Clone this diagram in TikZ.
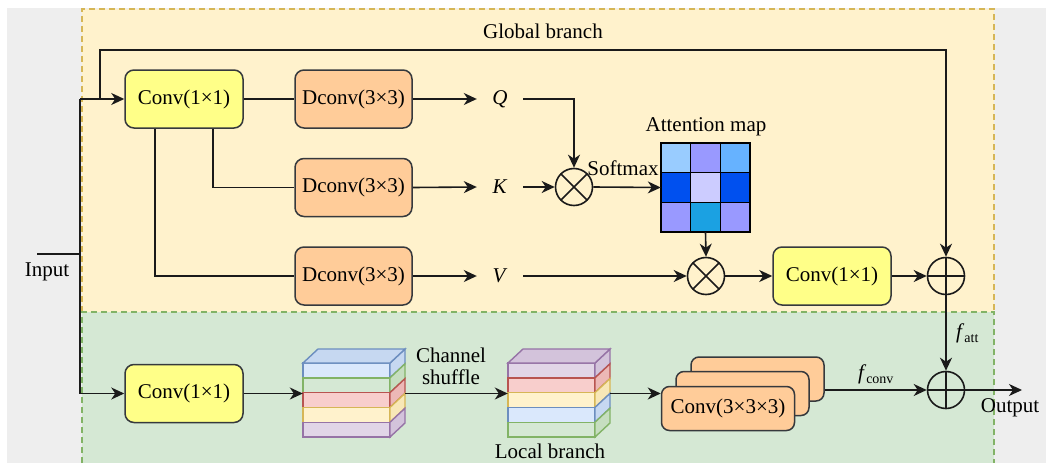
\documentclass[tikz,border=0pt]{standalone}
\usepackage{fontspec}
\setmainfont{Liberation Serif}
\usetikzlibrary{arrows.meta,calc}

% panel colours
\definecolor{pagegray}{HTML}{EEEEEE}
\definecolor{globfill}{HTML}{FFF2CC}
\definecolor{globline}{HTML}{D6B656}
\definecolor{locfill}{HTML}{D5E8D4}
\definecolor{locline}{HTML}{82B366}
% block colours
\definecolor{convyel}{HTML}{FFFF88}
\definecolor{convorg}{HTML}{FFCC99}
\definecolor{boxline}{HTML}{36393D}
\definecolor{wire}{HTML}{1A1A1A}
% attention map cells
\definecolor{amA}{HTML}{99CCFF}
\definecolor{amB}{HTML}{9999FF}
\definecolor{amC}{HTML}{66B2FF}
\definecolor{amD}{HTML}{0050EF}
\definecolor{amE}{HTML}{CCCCFF}
\definecolor{amF}{HTML}{1BA1E2}
% channel layers: face (F), edge (D), side (S)
\definecolor{Fblue}{HTML}{DAE8FC}\definecolor{Dblue}{HTML}{6C8EBF}
\definecolor{Fgreen}{HTML}{D5E8D4}\definecolor{Dgreen}{HTML}{82B366}
\definecolor{Fred}{HTML}{F8CECC}\definecolor{Dred}{HTML}{B85450}
\definecolor{Fyel}{HTML}{FFF2CC}\definecolor{Dyel}{HTML}{D6B656}
\definecolor{Fpur}{HTML}{E1D5E7}\definecolor{Dpur}{HTML}{9673A6}
\colorlet{Sblue}{Fblue!82!Dblue}
\colorlet{Sgreen}{Fgreen!82!Dgreen}
\colorlet{Sred}{Fred!82!Dred}
\colorlet{Syel}{Fyel!82!Dyel}
\colorlet{Spur}{Fpur!82!Dpur}

% a stack of feature channels: #1,#2 = top-left of front face, #3 = layers, #4 = top layer
\newcommand\chstack[4]{%
  \foreach \c [count=\i] in {#3} {
    \filldraw[line width=1.4, fill=F\c, draw=D\c]
      ({#1},{#2+(\i-1)*14.8}) rectangle ({#1+87},{#2+\i*14.8});
    \filldraw[line width=1.4, fill=S\c, draw=D\c]
      ({#1+87},{#2+(\i-1)*14.8}) -- ++(15,-14) -- ++(0,14.8)
      -- ({#1+87},{#2+\i*14.8}) -- cycle;
  }
  \filldraw[line width=1.4, fill=S#4, draw=D#4]
    ({#1},{#2}) -- ++(15,-14) -- ++(87,0) -- ({#1+87},{#2}) -- cycle;
}

\begin{document}
\begin{tikzpicture}[x=1pt,y=-1pt,
  font=\fontsize{21}{25}\selectfont,
  arr/.style={-{Stealth[length=13,width=12,inset=4]}},
  wireline/.style={draw=wire, line width=1.6},
  block/.style={draw=boxline, line width=1.5, rounded corners=9,
    minimum height=58, inner sep=0},
  yblock/.style={block, fill=convyel, minimum width=118},
  oblock/.style={block, fill=convorg, minimum width=117},
  cblock/.style={draw=boxline, line width=1.5, rounded corners=8, fill=convorg,
    minimum width=133, minimum height=44, inner sep=0},
  lbl/.style={inner sep=0, minimum width=46, minimum height=20},
  op/.style={circle, draw=wire, line width=1.6, minimum size=37, inner sep=0},
  mulop/.style={op, path picture={
    \draw[wire, line width=1.6]
      (path picture bounding box.north west) -- (path picture bounding box.south east)
      (path picture bounding box.north east) -- (path picture bounding box.south west);}},
  addop/.style={op, path picture={
    \draw[wire, line width=1.6]
      (path picture bounding box.north) -- (path picture bounding box.south)
      (path picture bounding box.west) -- (path picture bounding box.east);}},
  cell/.style={draw=black, line width=1.5}
]
\useasboundingbox (0,0) rectangle (1046,463);

% background and branch panels
\fill[pagegray] (7,8) rectangle (1046,463);
\fill[globfill] (82,9) rectangle (994,312);
\fill[locfill] (82,312) rectangle (994,463);
\draw[globline, line width=1.4, dash pattern=on 6 off 4]
  (82,312) -- (82,9) -- (994,9) -- (994,312);
\draw[locline, line width=1.4, dash pattern=on 6 off 4]
  (82,463) -- (82,312) -- (994,312) -- (994,463);

% global branch blocks
\node[yblock] (c1) at (184,99) {Conv(1×1)};
\node[oblock] (dq) at (353.5,99) {Dconv(3×3)};
\node[oblock] (dk) at (353.5,187.5) {Dconv(3×3)};
\node[oblock] (dv) at (353.5,276) {Dconv(3×3)};
\node[lbl] (q) at (500,99) {\textit{Q}};
\node[lbl] (k) at (500,187) {\textit{K}};
\node[lbl] (v) at (500,276) {\textit{V}};
\node[mulop] (m1) at (574,187) {};
\node[mulop] (m2) at (706,276) {};
\node[yblock] (c2) at (832,276) {Conv(1×1)};
\node[addop] (p1) at (946,276) {};

% attention map
\node[inner sep=0, minimum size=89] (att) at (705.5,187.5) {};
\foreach \col [count=\n] in {amA,amB,amC,amD,amE,amD,amB,amF,amB} {
  \pgfmathtruncatemacro\r{(\n-1)/3}
  \pgfmathtruncatemacro\cc{mod(\n-1,3)}
  \filldraw[cell, fill=\col] ({661+\cc*29.67},{143+\r*29.67})
    rectangle ++(29.67,29.67);
}
\node at (706,127) {Attention map};
\node at (623,168) {Softmax};
\node at (543,31) {Global branch};

% local branch blocks
\node[yblock] (lc) at (184,393.5) {Conv(1×1)};
\chstack{303}{363}{blue,green,red,yel,pur}{blue}
\chstack{508}{363}{pur,red,yel,blue,green}{pur}
\node[inner sep=0, minimum width=102, minimum height=74] (s1) at (354,400) {};
\node[inner sep=0, minimum width=102, minimum height=74] (s2) at (559,400) {};
\node[align=center] at (451,366) {Channel\\[-3pt]shuffle};
\node at (550,451) {Local branch};
\node[cblock] (b3) at (757.5,379) {};
\node[cblock] (b2) at (742.5,393.5) {};
\node[cblock] (b1) at (728,408.5) {Conv(3×3×3)};
\node[addop] (p2) at (946,390) {};

% input wiring
\coordinate (in0) at (37,254);
\coordinate (in1) at (80,254);
\coordinate (vtop) at (80,99);
\coordinate (vbot) at (80,393.5);
\coordinate (gsplit) at (100,99);
\coordinate (gtop) at (100,50);
\coordinate (out) at (1022,390);
\node at (47,272) {Input};
\node at (1010,408) {Output};

\draw[wireline] (in0) -- (in1);
\draw[wireline] (vtop) -- (vbot);
\draw[wireline, arr] (vtop) -- (c1.west);
\draw[wireline, arr] (vbot) -- (lc.west);
\draw[wireline, arr] (gsplit) -- (gtop) -| (p1.north);

% global branch connectors
\draw[wireline] (c1.east) -- (dq.west);
\draw[wireline] ($(c1.south)+(29,0)$) |- (dk.west);
\draw[wireline] ($(c1.south)+(-29,0)$) |- (dv.west);
\draw[wireline, arr] (dq.east) -- (q.west);
\draw[wireline, arr] (dk.east) -- (k.west);
\draw[wireline, arr] (dv.east) -- (v.west);
\draw[wireline, arr] (q.east) -| (m1.north);
\draw[wireline, arr] (k.east) -- (m1.west);
\draw[wireline, arr] (m1.east) -- (att.west);
\draw[wireline, arr] (att.south) -- (m2.north);
\draw[wireline, arr] (v.east) -- (m2.west);
\draw[wireline, arr] (m2.east) -- (c2.west);
\draw[wireline, arr] (c2.east) -- (p1.west);
\draw[wireline, arr] (p1.south) -- node[right=6pt, pos=0.5]
  {\textit{f}\raisebox{-4pt}{\fontsize{14}{14}\selectfont att}} (p2.north);

% local branch connectors
\draw[wireline, arr] (lc.east) -- (lc.east -| s1.west);
\draw[wireline, arr] (lc.east -| s1.east) -- (lc.east -| s2.west);
\draw[wireline, arr] (lc.east -| s2.east) -- (lc.east -| b1.west);
\draw[wireline, arr] (p2.west -| b3.east) -- node[above=2pt, pos=0.5]
  {\textit{f}\raisebox{-4pt}{\fontsize{14}{14}\selectfont conv}} (p2.west);
\draw[wireline, arr] (p2.east) -- (out);
\end{tikzpicture}
\end{document}
